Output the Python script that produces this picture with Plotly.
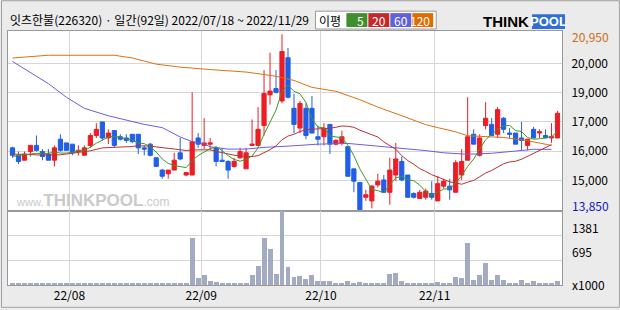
import plotly.graph_objects as go
import pandas as pd

# ---------------- data ----------------
opens = [16350, 16050, 15850, 16200, 16450, 16200, 16100, 15850, 16700, 16550,
         16500, 16200, 16050, 16450, 16850, 17400, 16750, 17050, 16800, 16750,
         16900, 16900, 16350, 16500, 15950, 15450, 15300, 15450, 16150, 15250,
         15250, 16750, 16450, 16500, 16350, 15850, 15800, 15600, 15950, 15500,
         16450, 16450, 17250, 18500, 18750, 18250, 20000, 17950, 17150, 17950,
         17950, 16800, 16800, 17300, 16500, 16550, 16400, 15500, 14950, 14350,
         14200, 14850, 15050, 14550, 15250, 15800, 15250, 14500, 14300, 14350,
         14500, 14200, 14800, 14800, 14550, 15250, 15850, 16900, 16050, 17250,
         17300, 16900, 17550, 16950, 16950, 16750, 16450, 17100, 16950, 16850,
         16750, 16750]
closes = [16050, 15800, 16100, 16450, 16250, 16000, 15850, 16350, 16250, 16250,
          16150, 16250, 16350, 16850, 17100, 16750, 16950, 16450, 16700, 16650,
          16600, 16350, 16300, 16050, 15600, 15200, 15450, 15850, 15900, 15350,
          16600, 16500, 16550, 16550, 15800, 15800, 15450, 15800, 16200, 16150,
          16500, 17100, 18550, 18650, 18600, 20250, 18400, 17300, 18150, 16850,
          16950, 16700, 17150, 16500, 16650, 16800, 15200, 15000, 13850, 14450,
          14800, 15000, 14550, 15450, 15900, 15050, 14350, 14350, 14550, 14600,
          14350, 14900, 15000, 14650, 15750, 15800, 16800, 16500, 16750, 17550,
          16850, 17900, 17100, 16900, 16500, 16650, 16700, 16750, 17000, 16750,
          16800, 17750]
highs = [16400, 16200, 16200, 16450, 16850, 16300, 16300, 16450, 16900, 16550,
         16500, 16450, 16450, 16950, 17350, 17400, 17100, 17050, 16900, 16900,
         16900, 16900, 16450, 16550, 15950, 15500, 15450, 16150, 16750, 15350,
         18600, 16950, 17550, 16750, 16350, 16350, 15850, 15950, 16350, 16350,
         17500, 18000, 19500, 20200, 19500, 20950, 20400, 18550, 18250, 18150,
         18450, 17250, 17350, 17300, 16700, 17050, 16400, 15500, 14950, 14650,
         14850, 15300, 15250, 15950, 16550, 16000, 15250, 14550, 14650, 14700,
         15000, 15200, 15100, 15100, 15850, 16300, 18400, 17100, 16900, 18200,
         17550, 18000, 17600, 17150, 16950, 17400, 16700, 17200, 17100, 17100,
         17350, 17850]
lows = [15950, 15700, 15850, 16000, 16200, 15850, 15850, 15600, 16200, 16250,
        16050, 16050, 16050, 16350, 16750, 16650, 16500, 16350, 16650, 16550,
        16550, 16100, 16050, 16000, 15600, 15100, 15100, 15450, 15850, 15200,
        15250, 16350, 16300, 16250, 15600, 15800, 15100, 15550, 15900, 15500,
        16450, 16450, 16850, 18100, 18550, 18150, 18350, 16950, 16950, 16700,
        16950, 16450, 16450, 16100, 16450, 16450, 15200, 14550, 13850, 14200,
        13900, 14750, 14550, 14050, 15000, 15000, 14350, 14300, 14300, 14250,
        14250, 14200, 14700, 14250, 14550, 15050, 15850, 16500, 16000, 17100,
        16850, 16750, 16950, 16750, 16500, 16250, 16250, 16750, 16750, 16750,
        16550, 16750]
volumes = [35, 35, 35, 35, 35, 35, 35, 35, 60, 35,
           35, 35, 35, 65, 65, 35, 35, 35, 35, 35,
           35, 55, 35, 35, 35, 35, 35, 35, 55, 35,
           1304, 203, 277, 111, 83, 55, 55, 55, 55, 55,
           277, 527, 1304, 999, 305, 2060, 499, 222, 250, 166,
           277, 111, 111, 111, 55, 55, 111, 55, 83, 55,
           55, 28, 55, 305, 333, 111, 55, 28, 28, 28,
           55, 83, 28, 28, 222, 194, 1165, 139, 277, 610,
           139, 277, 139, 55, 55, 139, 55, 111, 55, 28,
           55, 111]

# moving averages whose window reaches before the shown period
ma5_head = [16000, 16050, 16080, 16100]
ma20_head_idx = [0, 5, 8, 10, 13, 15, 18]
ma20_head_val = [16100, 16060, 16070, 16130, 16230, 16350, 16370]
ma60_idx = [0, 3, 6, 9, 12, 16, 19, 22, 25, 28, 30, 32, 33, 36, 39, 42, 46, 51, 56, 59, 64, 69, 72, 76, 80, 84, 87, 90]
ma60_val = [19850, 19400, 18950, 18400, 17950, 17650, 17460, 17300, 17170, 16790, 16600, 16520, 16390, 16300, 16300,
            16370, 16420, 16500, 16530, 16460, 16370, 16240, 16150, 16090, 16130, 16230, 16290, 16290]
ma120_idx = [0, 4, 6, 17, 20, 24, 28, 33, 39, 44, 47, 50, 54, 58, 61, 65, 69, 71, 74, 76, 79, 82, 86, 90]
ma120_val = [19990, 20060, 20100, 20100, 19990, 19740, 19620, 19520, 19420, 19250, 19080, 18800, 18640, 18300,
             18000, 17650, 17290, 17170, 17000, 16840, 16820, 16770, 16640, 16450]

month_start_idx = [10, 32, 52, 71]
month_labels = ["22/08", "22/09", "22/10", "22/11"]
price_tick_labels = ["20,000", "19,000", "17,000", "16,000", "15,000"]
vol_tick_vals = [695, 1381]
vol_max = 2072

title_text = "잇츠한불(226320) · 일간(92일) 2022/07/18 ~ 2022/11/29"

# ---------------- styling ----------------
RED = "#EE1C25"
BLUE = "#1F5FE8"
C_MA5 = "#3F9A22"
C_MA20 = "#C03030"
C_MA60 = "#6A5FE0"
C_MA120 = "#E07010"
VOLC = "#A3ABC3"
GRID = "#D6D6D6"
FRAME = "#999999"
BG = "#EBEBEB"
FONT = "Noto Sans CJK KR"

W, H = 620, 310
L, R, T, B = 7, 58, 31, 23
PW, PH = W - L - R, H - T - B
SPLIT = 212.5  # pixel row between price and volume panels


def fx(p):
    return (p - L) / PW


def fy(p):
    return (H - B - p) / PH


n = len(closes)
x = list(range(n))
cs = pd.Series(closes, dtype=float)
ma5 = ma5_head + cs.rolling(5).mean().tolist()[4:]
ma20_x = ma20_head_idx + list(range(19, n - 1))
ma20_y = ma20_head_val + cs.rolling(20).mean().tolist()[19:n - 1]

hi, lo = max(highs), min(lows)
scale = (hi - lo) / (211.0 - 34.3)
y_range = [lo - (SPLIT - 211.0) * scale, hi + (34.3 - T) * scale]
price_tick_vals = [hi - k * (hi - lo) / 6 for k in range(1, 6)]
month_ticks = [i - 0.5 for i in month_start_idx]
x_range = [-0.75, n - 0.25]
vol_top = fy(SPLIT)

fig = go.Figure()
fig.add_trace(go.Bar(x=x, y=volumes, width=0.83, marker=dict(color=VOLC, line=dict(width=0)),
                     xaxis="x2", yaxis="y2", hoverinfo="skip"))
fig.add_trace(go.Scatter(x=ma120_idx, y=ma120_val, mode="lines", line=dict(color=C_MA120, width=1)))
fig.add_trace(go.Scatter(x=ma60_idx, y=ma60_val, mode="lines", line=dict(color=C_MA60, width=1)))
fig.add_trace(go.Scatter(x=ma20_x, y=ma20_y, mode="lines", line=dict(color=C_MA20, width=1)))
fig.add_trace(go.Scatter(x=x, y=ma5, mode="lines", line=dict(color=C_MA5, width=1)))
fig.add_trace(go.Candlestick(
    x=x, open=opens, high=highs, low=lows, close=closes, whiskerwidth=0,
    increasing=dict(line=dict(color=RED, width=1), fillcolor=RED),
    decreasing=dict(line=dict(color=BLUE, width=1), fillcolor=BLUE)))

axis_common = dict(showgrid=True, gridcolor=GRID, gridwidth=1, showline=True, mirror=True,
                   linecolor=FRAME, linewidth=1, ticks="", zeroline=False, fixedrange=True)

ann = []


def add_text(text, px, py, size=12, color="black", anchor="left", family=FONT, **kw):
    ann.append(dict(text=text, x=fx(px), y=fy(py), xref="paper", yref="paper", showarrow=False,
                    xanchor=anchor, yanchor="middle", font=dict(size=size, color=color, family=family), **kw))


add_text(title_text, 7, 19, size=12)
add_text("이평", 330, 20, size=12, anchor="center")
for lab, col, x0, x1 in [("5", "#3F8F2F", 346, 367), ("20", "#C4282B", 368, 389),
                         ("60", "#6060D8", 390, 411), ("120", "#E06C00", 412, 433)]:
    add_text(lab, x1 - 1, 20, size=12, color="white", anchor="right")
add_text("<b>THINK</b>", 531, 21, size=15, anchor="right", family="Liberation Sans")
add_text("<b>POOL</b>", 548, 21, size=13, color="white", anchor="center", family="Liberation Sans")
add_text("<span style='font-size:11px'>www.</span><b>THINKPOOL</b><span style='font-size:12px'>.com</span>",
         92, 202, size=17, color="#CACACA", anchor="center",
         family="Liberation Sans Narrow, Liberation Sans")
add_text("20,950", 570, 37, color="#CC6A1A")
add_text("13,850", 570, 207, color="#1515C0")
add_text("1381", 570, 229)
add_text("695", 570, 253)
add_text("x1000", 570, 286)

shapes = [
    dict(type="rect", xref="paper", yref="paper", x0=fx(315), x1=fx(436), y0=fy(29), y1=fy(11),
         fillcolor="white", line=dict(color="#9A9A9A", width=1), layer="below"),
    dict(type="rect", xref="paper", yref="paper", x0=fx(346), x1=fx(367), y0=fy(27), y1=fy(13),
         fillcolor="#3F8F2F", line=dict(width=0), layer="below"),
    dict(type="rect", xref="paper", yref="paper", x0=fx(368), x1=fx(389), y0=fy(27), y1=fy(13),
         fillcolor="#C4282B", line=dict(width=0), layer="below"),
    dict(type="rect", xref="paper", yref="paper", x0=fx(390), x1=fx(411), y0=fy(27), y1=fy(13),
         fillcolor="#6060D8", line=dict(width=0), layer="below"),
    dict(type="rect", xref="paper", yref="paper", x0=fx(412), x1=fx(433), y0=fy(27), y1=fy(13),
         fillcolor="#E06C00", line=dict(width=0), layer="below"),
    dict(type="rect", xref="paper", yref="paper", x0=fx(532), x1=fx(565), y0=fy(29), y1=fy(14),
         fillcolor="#2F6FD6", line=dict(width=0), layer="below"),
    dict(type="rect", xref="paper", yref="paper", x0=fx(0.5), x1=fx(619.5), y0=fy(309.5), y1=fy(0.5),
         line=dict(color="#A0A0A0", width=1), layer="below"),
]

fig.update_layout(
    width=W, height=H, margin=dict(l=L, r=R, t=T, b=B, pad=0),
    paper_bgcolor=BG, plot_bgcolor="white", showlegend=False,
    boxgap=0.3, boxgroupgap=0, bargap=0, barmode="overlay",
    font=dict(family=FONT, size=12, color="black"),
    xaxis=dict(domain=[0, 1], range=x_range, anchor="y", tickvals=month_ticks, showticklabels=False,
               rangeslider=dict(visible=False), **axis_common),
    xaxis2=dict(domain=[0, 1], range=x_range, anchor="y2", tickvals=month_ticks, ticktext=month_labels,
                tickfont=dict(size=12, color="black", family=FONT), **axis_common),
    yaxis=dict(domain=[vol_top, 1], range=y_range, side="right", tickvals=price_tick_vals,
               ticktext=price_tick_labels, tickfont=dict(size=12, color="black", family=FONT),
               ticklabelstandoff=6, **axis_common),
    yaxis2=dict(domain=[0, vol_top], range=[0, vol_max], side="right", tickvals=vol_tick_vals,
                showticklabels=False, **axis_common),
    annotations=ann, shapes=shapes,
)

fig.write_html("out.html")
